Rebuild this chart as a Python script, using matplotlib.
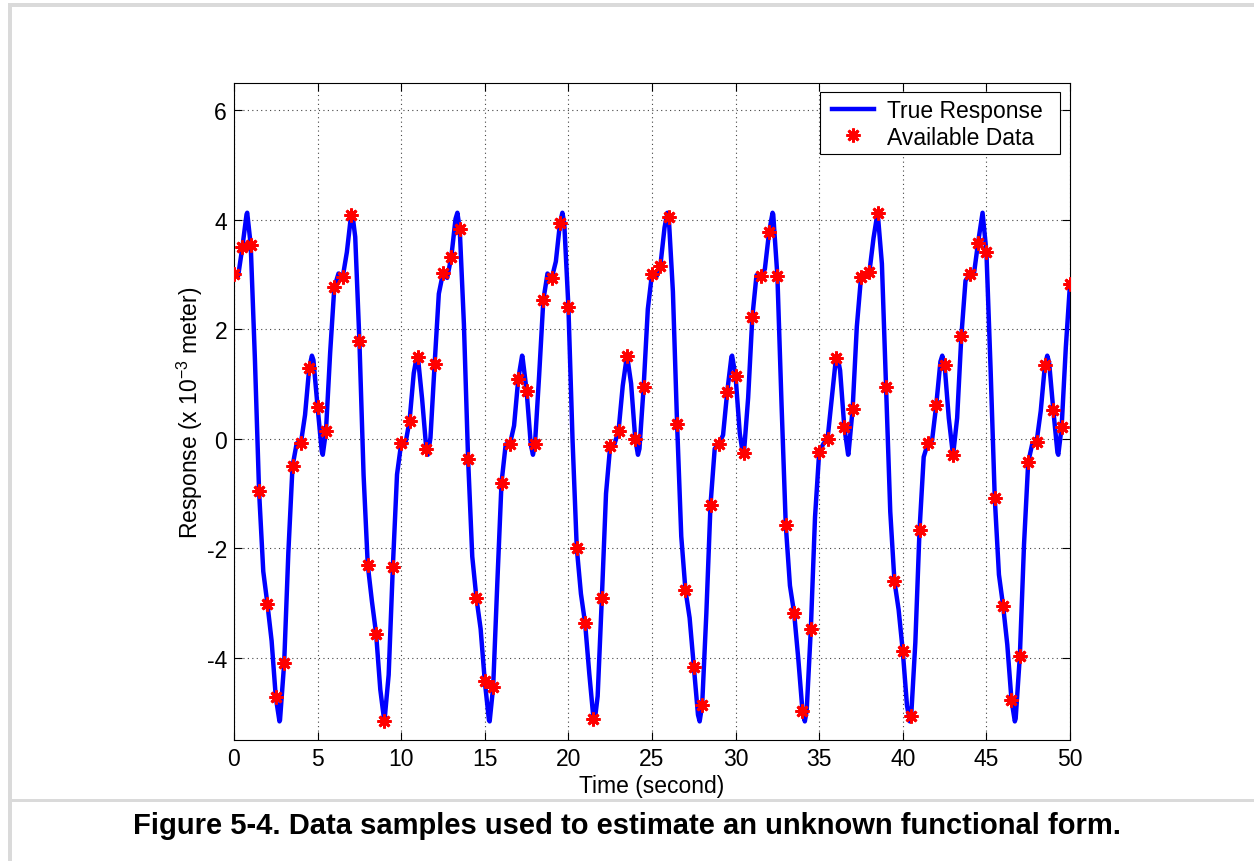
import numpy as np
import matplotlib
matplotlib.use("Agg")
import matplotlib.pyplot as plt
from matplotlib.patches import Rectangle

plt.rcParams['font.family'] = ['Liberation Sans', 'DejaVu Sans']
plt.rcParams['mathtext.default'] = 'regular'
plt.rcParams['axes.unicode_minus'] = False

# sampled measurements, one every 0.5 s from 0 to 50 s
sample_time = np.linspace(0, 50, 101)
sample_resp = [
    3.01, 3.50, 3.54, -0.96, -3.02, -4.72, -4.10, -0.50, -0.08, 1.30, 0.58, 0.14, 2.77,
    2.95, 4.08, 1.79, -2.30, -3.56, -5.15, -2.34, -0.08, 0.33, 1.49, -0.18, 1.37, 3.03,
    3.33, 3.84, -0.36, -2.91, -4.43, -4.53, -0.80, -0.10, 1.09, 0.88, -0.10, 2.53,
    2.93, 3.95, 2.41, -1.99, -3.37, -5.11, -2.91, -0.13, 0.15, 1.52, -0.01, 0.95,
    3.02, 3.16, 4.06, 0.28, -2.76, -4.16, -4.86, -1.20, -0.10, 0.86, 1.14, -0.25,
    2.22, 2.97, 3.77, 2.97, -1.57, -3.18, -4.97, -3.47, -0.24, 0.00, 1.47, 0.22, 0.55,
    2.95, 3.04, 4.12, 0.95, -2.60, -3.88, -5.07, -1.67, -0.08, 0.62, 1.35, -0.29, 1.87,
    3.01, 3.58, 3.42, -1.08, -3.05, -4.77, -3.97, -0.43, -0.06, 1.35, 0.53, 0.22, 2.83,
]

# true response between the samples (t = 0.25, 0.75, ..., 49.75)
mid_time = np.linspace(0.25, 49.75, 100)
mid_resp = [
    2.98, 4.10, 1.46, -2.42, -3.69, -5.14, -2.08, -0.08, 0.44, 1.44, -0.23, 1.57, 3.02,
    3.41, 3.69, -0.66, -2.97, -4.58, -4.31, -0.65, -0.09, 1.20, 0.73, 0.02, 2.65,
    2.94, 4.02, 2.10, -2.15, -3.47, -5.14, -2.62, -0.10, 0.24, 1.51, -0.10, 1.16, 3.02,
    3.24, 3.95, -0.04, -2.83, -4.29, -4.70, -1.00, -0.10, 0.97, 1.01, -0.18, 2.37,
    2.95, 3.86, 2.69, -1.78, -3.27, -5.04, -3.19, -0.18, 0.07, 1.50, 0.10, 0.75, 2.99,
    3.10, 4.10, 0.61, -2.68, -4.02, -4.97, -1.43, -0.09, 0.74, 1.25, -0.28, 2.05,
    2.99, 3.67, 3.20, -1.33, -3.12, -4.87, -3.72, -0.33, -0.03, 1.41, 0.38, 0.38, 2.89,
    3.00, 4.10, 1.28, -2.48, -3.76, -5.11, -1.93, -0.08, 0.51, 1.40, -0.25, 1.67,
]

# turning points of the true response in each cycle
peak_time = [0.79, 7.07, 13.36, 19.64, 25.92, 32.21, 38.49, 44.77]
peak_resp = [4.13, 4.13, 4.13, 4.13, 4.13, 4.13, 4.13, 4.13]
trough_time = [2.72, 8.99, 15.29, 21.57, 27.85, 34.14, 40.42, 46.70]
trough_resp = [-5.16, -5.16, -5.16, -5.16, -5.16, -5.16, -5.16, -5.16]
bump_time = [4.66, 10.94, 17.23, 23.51, 29.79, 36.08, 42.36, 48.64]
bump_resp = [1.52, 1.52, 1.52, 1.52, 1.52, 1.52, 1.52, 1.52]
dip_time = [5.31, 11.59, 17.88, 24.16, 30.44, 36.73, 43.01, 49.30]
dip_resp = [-0.29, -0.29, -0.29, -0.29, -0.29, -0.29, -0.29, -0.29]

true_t = np.concatenate([sample_time, mid_time, peak_time, trough_time, bump_time, dip_time])
true_y = np.concatenate([sample_resp, mid_resp, peak_resp, trough_resp, bump_resp, dip_resp])
order = np.argsort(true_t, kind='stable')
true_t, true_y = true_t[order], true_y[order]

W, H = 1254, 862
fig = plt.figure(figsize=(W / 100, H / 100), dpi=100)
fig.patch.set_facecolor('white')

# page frame and caption separator
gray = '#dadada'
fig.add_artist(Rectangle((8 / W, 0), 3.5 / W, 1 - 4 / H, transform=fig.transFigure,
                         facecolor=gray, edgecolor='none'))
fig.add_artist(Rectangle((8 / W, 1 - 7.5 / H), 1, 3.5 / H, transform=fig.transFigure,
                         facecolor=gray, edgecolor='none'))
fig.add_artist(Rectangle((8 / W, 1 - 803 / H), 1, 3.5 / H, transform=fig.transFigure,
                         facecolor=gray, edgecolor='none'))

ax = fig.add_axes([234 / W, 1 - 741 / H, 836 / W, 657 / H])
ax.plot(true_t, true_y, color='#0000ff', lw=3.2, solid_joinstyle='round',
        label='True Response', zorder=3)
ax.plot(sample_time, sample_resp, linestyle='none', marker=(8, 2, 0), ms=10, mew=2.0,
        color='#ff0000', label='Available Data', zorder=4)

ax.set_xlim(0, 50)
ax.set_ylim(-5.5, 6.5)
ax.set_xticks(np.arange(0, 51, 5))
ax.set_yticks([-4, -2, 0, 2, 4, 6])
ax.grid(True, color='#444444', linestyle=(0, (1, 3)), linewidth=0.8)
ax.tick_params(direction='in', length=6, width=0.8, top=True, right=True,
               labelsize=16.5, pad=5)
for s in ax.spines.values():
    s.set_linewidth(0.8)

ax.set_xlabel('Time (second)', fontsize=16.5, labelpad=3)
ax.set_ylabel('Response (x 10$^{-3}$ meter)', fontsize=16.5, labelpad=1)

# legend box drawn separately so it can be wider than the entries
ax.add_patch(Rectangle((0.701, 0.892), 0.287, 0.094, transform=ax.transAxes,
                       facecolor='white', edgecolor='black', linewidth=0.8, zorder=5))
leg = ax.legend(loc='upper right', bbox_to_anchor=(0.976, 0.986), borderaxespad=0,
                fontsize=16.5, frameon=False, handlelength=1.8, handletextpad=0.6,
                labelspacing=0.15, borderpad=0.3)
leg.set_zorder(6)

fig.text(0.5, 1 - 826 / H, 'Figure 5-4. Data samples used to estimate an unknown functional form.',
         ha='center', va='center', fontsize=21, fontweight='bold')

fig.savefig('out.png', dpi=100)
